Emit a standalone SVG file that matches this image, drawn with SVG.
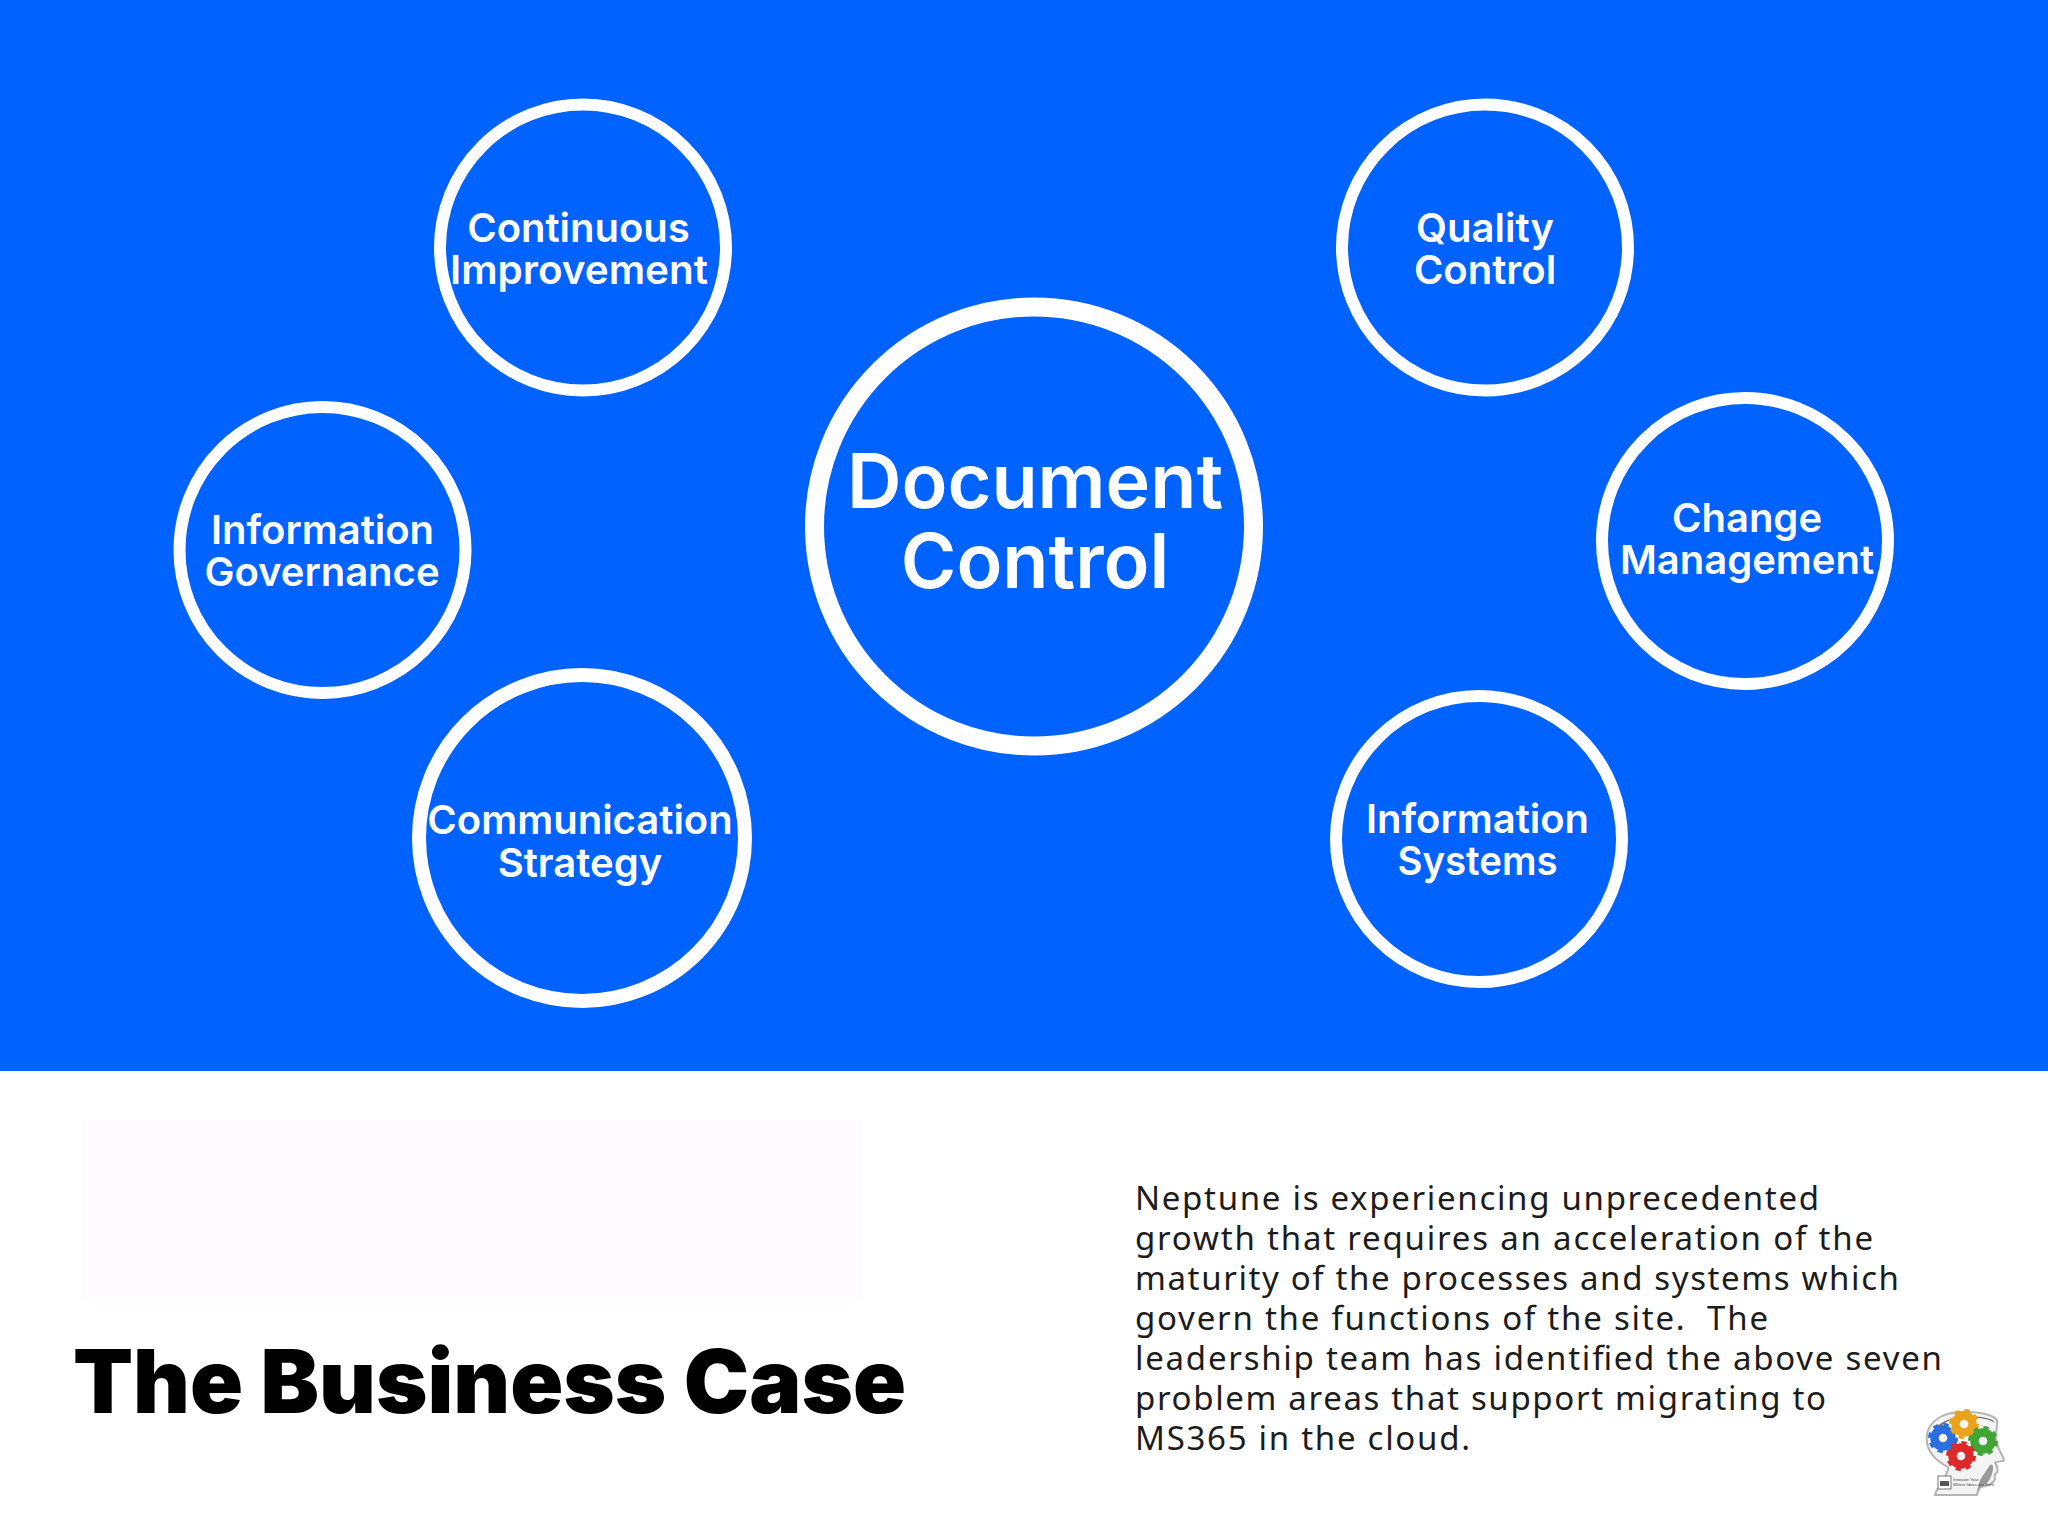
<svg xmlns="http://www.w3.org/2000/svg" xmlns:xlink="http://www.w3.org/1999/xlink" width="2048" height="1536" viewBox="0 0 2048 1536">
<style>
.ring{fill:none;stroke:#fff;stroke-width:12}
.big{stroke-width:14}
.huge{stroke-width:19}
.lbl{font-family:Inter,"Liberation Sans",sans-serif;font-weight:600;font-size:40px;fill:#fff;text-anchor:middle}
.hl{font-size:75.5px;font-weight:600}
.body{font-family:"Noto Sans","Open Sans",sans-serif;font-size:33px;fill:#1c1c1c}
.title{font-family:Inter,"Liberation Sans",sans-serif;font-weight:900;font-size:88px;fill:#000}
.tiny{font-family:"Liberation Sans",sans-serif;font-size:4.2px;fill:#444}
</style>
<defs>
<g id="gear" fill="none" stroke="currentColor">
<circle r="8.5" stroke-width="8.4"/>
<circle r="13" stroke-width="4" stroke-dasharray="5.1 5.11"/>
</g>
<filter id="soft" x="-10%" y="-10%" width="120%" height="120%"><feGaussianBlur stdDeviation="0.5"/></filter>
</defs>
<rect width="2048" height="1536" fill="#fff"/>
<rect id="band" width="2048" height="1071" fill="#0062ff"/>
<rect id="placeholder" x="82" y="1120" width="780" height="182" fill="#fdfbff"/>
<g id="connectors"/>
<g id="node-document-control"><circle class="ring huge" cx="1034" cy="526.5" r="219.5"/><text class="lbl hl" x="1035" y="508">Document</text><text class="lbl hl" x="1035" y="588">Control</text></g>
<g id="node-continuous-improvement"><circle class="ring" cx="583" cy="247.5" r="143"/><text class="lbl" x="578.5" y="242">Continuous</text><text class="lbl" x="579" y="284" textLength="258" lengthAdjust="spacingAndGlyphs">Improvement</text></g>
<g id="node-information-governance"><circle class="ring" cx="322.5" cy="550" r="143"/><text class="lbl" x="322.5" y="544">Information</text><text class="lbl" x="322" y="586">Governance</text></g>
<g id="node-communication-strategy"><circle class="ring big" cx="582" cy="838" r="163"/><text class="lbl" x="580" y="834">Communication</text><text class="lbl" x="580" y="876.5">Strategy</text></g>
<g id="node-quality-control"><circle class="ring" cx="1485" cy="247.5" r="143"/><text class="lbl" x="1485" y="242">Quality</text><text class="lbl" x="1485" y="284">Control</text></g>
<g id="node-change-management"><circle class="ring" cx="1745" cy="541" r="143"/><text class="lbl" x="1747" y="532">Change</text><text class="lbl" x="1747" y="574">Management</text></g>
<g id="node-information-systems"><circle class="ring" cx="1479" cy="839" r="143"/><text class="lbl" x="1477.5" y="833">Information</text><text class="lbl" x="1477.5" y="875" textLength="160" lengthAdjust="spacingAndGlyphs">Systems</text></g>
<text id="title" class="title" x="73" y="1413" textLength="833" lengthAdjust="spacingAndGlyphs">The Business Case</text>
<g id="description" class="body">
<text x="1135" y="1210" textLength="684">Neptune is experiencing unprecedented</text>
<text x="1135" y="1250" textLength="738">growth that requires an acceleration of the</text>
<text x="1135" y="1290" textLength="764">maturity of the processes and systems which</text>
<text x="1135" y="1330" textLength="633" xml:space="preserve">govern the functions of the site.  The</text>
<text x="1135" y="1370" textLength="807">leadership team has identified the above seven</text>
<text x="1135" y="1410" textLength="691">problem areas that support migrating to</text>
<text x="1135" y="1450" textLength="335">MS365 in the cloud.</text>
</g>
<g id="logo">
<g filter="url(#soft)">
<g transform="translate(1880 1380) scale(.3333)">
<path d="M165 345 C175 310 205 290 205 262 C165 240 140 215 140 175 C140 125 190 95 250 95 C300 95 350 105 352 125 C350 150 345 170 350 190 C358 215 372 232 372 242 C360 246 348 244 345 248 C352 258 354 266 352 276 C345 280 342 285 345 298 C340 312 320 318 300 322 L290 345 Z" fill="#f4f4f4" stroke="#b4b4b4" stroke-width="6" stroke-linejoin="round"/>
<path d="M165 200 C155 150 195 115 250 112 C295 110 335 118 345 130 L338 120 C300 105 215 100 170 140 Z" fill="#6f6f6f"/>
<path d="M330 255 C345 245 340 280 328 300 C320 315 300 320 290 335 L300 300 Z" fill="#9a9a9a"/>
</g>
<use xlink:href="#gear" href="#gear" x="1943" y="1438" style="color:#2a6ee0"/>
<use xlink:href="#gear" href="#gear" x="1964" y="1424" style="color:#eca31c"/>
<use xlink:href="#gear" href="#gear" x="1983" y="1441" style="color:#3fa535"/>
<use xlink:href="#gear" href="#gear" x="1961" y="1456" style="color:#dc2a2a"/>
<rect x="1938" y="1476" width="13" height="13" fill="#fff" stroke="#777" stroke-width="1"/>
<rect x="1940" y="1481" width="9" height="5" fill="#555"/>
</g>
<text class="tiny" x="1953" y="1481">Innovate Your</text>
<text class="tiny" x="1953" y="1486">Where Ideas are Born</text>
</g>
</svg>
